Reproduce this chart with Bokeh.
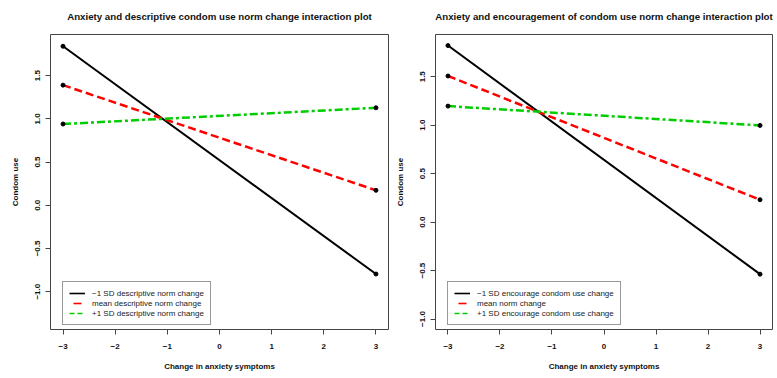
from bokeh.plotting import figure
from bokeh.layouts import row
from bokeh.models import Range1d, FixedTicker, Legend, LegendItem, Title
from bokeh.embed import file_html
from bokeh.resources import INLINE

# ---- data ----
x_vals = [-3, 3]
left_low = [1.84, -0.796]
left_mean = [1.39, 0.173]
left_high = [0.94, 1.128]
right_low = [1.822, -0.537]
right_mean = [1.508, 0.231]
right_high = [1.197, 0.998]

x_ticks = [-3, -2, -1, 0, 1, 2, 3]
x_tick_labels = ["\u22123", "\u22122", "\u22121", "0", "1", "2", "3"]
y_ticks = [-1.0, -0.5, 0.0, 0.5, 1.0, 1.5]
y_tick_labels = ["\u22121.0", "\u22120.5", "0.0", "0.5", "1.0", "1.5"]

left_title = "Anxiety and descriptive condom use norm change interaction plot"
right_title = "Anxiety and encouragement of condom use norm change interaction plot"
left_legend = ["\u22121 SD descriptive norm change", "mean descriptive norm change",
               "+1 SD descriptive norm change"]
right_legend = ["\u22121 SD encourage condom use change", "mean norm change",
                "+1 SD encourage condom use change"]
x_label = "Change in anxiety symptoms"
y_label = "Condom use"

FONT = "Liberation Sans"
GREEN = "#00CD00"
BOX = "#444444"
HEIGHT = 378
BOTTOM = 49


def make_plot(title, low, mean, high, labels, yr, width, border_left, border_right, top):
    p = figure(width=width, height=HEIGHT, output_backend="svg", toolbar_location=None,
               title=None,
               x_range=Range1d(-3.24, 3.24), y_range=Range1d(*yr),
               min_border_left=border_left, min_border_right=border_right,
               min_border_top=top, min_border_bottom=BOTTOM)
    spacer = Title(text=" ", text_font_size="5px", align="center", standoff=0)
    p.add_layout(spacer, "above")
    t = Title(text=title, align="center", text_font=FONT, text_font_size="9.7px",
              text_font_style="bold", text_color="#111111")
    p.add_layout(t, "above")
    p.xgrid.visible = False
    p.ygrid.visible = False
    p.outline_line_color = BOX
    p.outline_line_width = 1
    p.background_fill_color = "white"
    p.border_fill_color = "white"

    for ax in (p.xaxis[0], p.yaxis[0]):
        ax.axis_line_color = None
        ax.major_tick_line_color = BOX
        ax.major_tick_out = 5
        ax.major_tick_in = 0
        ax.minor_tick_line_color = None
        ax.major_label_text_font = FONT
        ax.major_label_text_font_size = "8px"
        ax.major_label_text_font_style = "bold"
        ax.major_label_text_color = "#111111"
        ax.axis_label_text_font = FONT
        ax.axis_label_text_font_size = "8px"
        ax.axis_label_text_font_style = "bold"
        ax.axis_label_text_color = "#111111"

    p.xaxis.ticker = FixedTicker(ticks=x_ticks)
    p.xaxis.major_label_overrides = dict(zip(x_ticks, x_tick_labels))
    p.xaxis.axis_label = x_label
    p.xaxis.major_label_standoff = 9
    p.xaxis.axis_label_standoff = 10

    p.yaxis.ticker = FixedTicker(ticks=y_ticks)
    p.yaxis.major_label_overrides = dict(zip(y_ticks, y_tick_labels))
    p.yaxis.major_label_orientation = "vertical"
    p.yaxis.axis_label = y_label
    p.yaxis.major_label_standoff = 5
    p.yaxis.axis_label_standoff = 13

    p.line(x_vals, low, line_color="black", line_width=2)
    p.line(x_vals, mean, line_color="red", line_width=2.5, line_dash="8 4")
    p.line(x_vals, high, line_color=GREEN, line_width=2.5, line_dash="8 3 3 3")
    for ys in (low, mean, high):
        p.scatter(x_vals, ys, size=4, color="black")

    # legend sample renderers (placed outside the visible range)
    off_x = [-20, -19]
    off_y = [-20, -20]
    r1 = p.line(off_x, off_y, line_color="black", line_width=1.6)
    r2 = p.line(off_x, off_y, line_color="red", line_width=1.6, line_dash="8 8", line_dash_offset=12)
    r3 = p.line(off_x, off_y, line_color=GREEN, line_width=1.6, line_dash="5 3")
    leg = Legend(items=[LegendItem(label=labels[0], renderers=[r1]),
                        LegendItem(label=labels[1], renderers=[r2]),
                        LegendItem(label=labels[2], renderers=[r3])],
                 location=(12, 4))
    leg.margin = 0
    leg.padding = 6
    leg.spacing = 0
    leg.glyph_width = 16
    leg.glyph_height = 10
    leg.label_height = 10
    leg.label_standoff = 7
    leg.label_text_font = FONT
    leg.label_text_font_size = "8px"
    leg.label_text_color = "#222222"
    leg.border_line_color = "#333333"
    leg.border_line_width = 1
    leg.background_fill_color = "white"
    leg.background_fill_alpha = 1
    p.add_layout(leg, "center")
    return p


p1 = make_plot(left_title, left_low, left_mean, left_high, left_legend,
               (-1.438, 1.976), 389, 50, 1, 33)
p2 = make_plot(right_title, right_low, right_mean, right_high, right_legend,
               (-1.108, 1.936), 388, 46, 5, 34)

layout = row(p1, p2)
open("out.html", "w").write(file_html(layout, INLINE))
